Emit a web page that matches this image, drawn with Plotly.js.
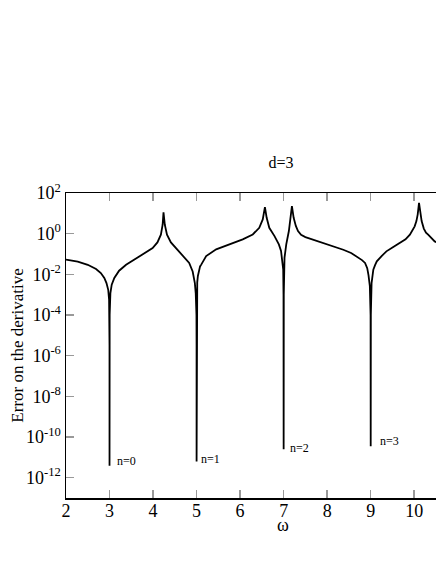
<!DOCTYPE html>
<html>
<head>
<meta charset="utf-8">
<script src="https://cdn.plot.ly/plotly-3.0.1.min.js"></script>
<style>
  body { margin: 0; background: #fff; overflow: hidden; }
</style>
</head>
<body>
<div id="chart"></div>
<script>
// error curve
var omega = [
    2.0, 2.27, 2.50, 2.69, 2.80, 2.88, 2.93, 2.97, 2.99, 2.997, 2.9995, 3.0, 3.0005, 3.003,
    3.02, 3.05, 3.11, 3.22, 3.38, 3.57, 3.80, 3.99, 4.10, 4.18, 4.22, 4.24,
    4.27, 4.32, 4.41, 4.56, 4.72, 4.83, 4.91, 4.96, 4.98, 4.997, 4.9995, 5.0, 5.0005, 5.003,
    5.015, 5.03, 5.08, 5.11, 5.22, 5.45, 5.75, 6.06, 6.29, 6.44, 6.52, 6.57,
    6.61, 6.67, 6.79, 6.89, 6.94, 6.97, 6.99, 6.997, 7.0, 7.003,
    7.02, 7.06, 7.12, 7.15, 7.19, 7.23, 7.28, 7.33, 7.40, 7.50, 7.62, 7.78, 7.99,
    8.2, 8.37, 8.55, 8.68, 8.80, 8.87, 8.92, 8.95, 8.98, 8.997, 9.0, 9.003,
    9.02, 9.04, 9.06, 9.10, 9.14, 9.25, 9.36, 9.5, 9.67, 9.80, 9.90, 9.96, 10.01, 10.05, 10.08, 10.11,
    10.14, 10.17, 10.22, 10.27, 10.32, 10.40, 10.47, 10.6
];
var errDeriv = [
    0.0525, 0.0417, 0.0295, 0.0182, 0.0115, 0.0066, 0.0037, 0.00174, 0.00056, 1e-4, 3.2e-6, 3.9e-12, 3.2e-6, 1e-4,
    0.0012, 0.0031, 0.0066, 0.0151, 0.0295, 0.0525, 0.102, 0.195, 0.372, 0.89, 2.75, 11.2,
    2.75, 0.89, 0.372, 0.162, 0.0759, 0.0363, 0.0138, 0.0037, 0.0012, 1e-4, 3.2e-6, 6.3e-12, 3.2e-6, 1e-4,
    0.004, 0.0083, 0.0245, 0.0309, 0.079, 0.17, 0.295, 0.525, 0.912, 1.95, 5.01, 20.4,
    6.03, 1.95, 0.759, 0.295, 0.141, 0.0537, 0.0174, 1e-3, 2.5e-11, 1e-3,
    0.066, 0.295, 1.35, 4.17, 22.9, 6.03, 2.4, 1.35, 0.87, 0.68, 0.56, 0.43, 0.288,
    0.214, 0.162, 0.112, 0.0759, 0.0501, 0.0363, 0.02, 0.0089, 0.0026, 1e-4, 3.5e-11, 1e-4,
    0.0037, 0.01, 0.017, 0.0282, 0.0437, 0.0794, 0.135, 0.209, 0.347, 0.525, 0.89, 1.41, 2.29, 4.17, 8.9, 32.4,
    8.9, 4.17, 1.78, 1.12, 0.89, 0.603, 0.417, 0.316
];

var xTicks = [2, 3, 4, 5, 6, 7, 8, 9, 10];
var yTicks = [1e2, 1e0, 1e-2, 1e-4, 1e-6, 1e-8, 1e-10, 1e-12];
var yTickText = ["10<sup>2</sup>", "10<sup>0</sup>", "10<sup>-2</sup>", "10<sup>-4</sup>",
    "10<sup>-6</sup>", "10<sup>-8</sup>", "10<sup>-10</sup>", "10<sup>-12</sup>"];

// level labels next to the dips (y in log10 units)
var levelText = ["n=0", "n=1", "n=2", "n=3"];
var levelX = [3.13, 5.06, 7.09, 9.16];
var levelY = [-11.2, -11.08, -10.54, -10.18];

var serif = "'Liberation Serif', 'Times New Roman', Times, serif";

var annotations = levelText.map((t, i) => ({
    text: t,
    x: levelX[i],
    y: levelY[i],
    xref: "x",
    yref: "y",
    xanchor: "left",
    yanchor: "middle",
    showarrow: false,
    font: { family: serif, size: 12, color: "#000" },
}));
annotations.push({
    text: "\u03c9",
    xref: "paper", yref: "paper",
    x: (283 - 66) / 370, y: -0.09,
    xanchor: "center", yanchor: "middle",
    showarrow: false,
    font: { family: serif, size: 18, color: "#000" },
});
annotations.push({
    text: "Error on the derivative",
    xref: "paper", yref: "paper",
    x: -0.132, y: 0.5,
    xanchor: "center", yanchor: "middle",
    textangle: -90,
    showarrow: false,
    font: { family: serif, size: 17, color: "#000" },
});

var trace = {
    x: omega,
    y: errDeriv,
    mode: "lines",
    type: "scatter",
    line: { color: "#000", width: 1.8 },
    hoverinfo: "skip",
};

var layout = {
    width: 436,
    height: 564,
    margin: { l: 66, r: 0, t: 193, b: 66 },
    paper_bgcolor: "#fff",
    plot_bgcolor: "#fff",
    showlegend: false,
    font: { family: serif, color: "#000" },
    title: {
        text: "d=3",
        font: { family: serif, size: 16, color: "#000" },
        xref: "container",
        yref: "container",
        x: 281 / 436,
        y: 1 - 162 / 564,
        xanchor: "center",
        yanchor: "middle",
    },
    xaxis: {
        range: [2, 10.5],
        tickmode: "array",
        tickvals: xTicks,
        ticks: "inside",
        ticklen: 8,
        tickwidth: 1.5,
        tickcolor: "#999",
        ticklabelstandoff: -4,
        showline: true,
        linecolor: "#000",
        linewidth: 1.5,
        mirror: "ticks",
        showgrid: false,
        zeroline: false,
        tickfont: { family: serif, size: 18, color: "#000" },
    },
    yaxis: {
        type: "log",
        range: [-13, 2],
        tickmode: "array",
        tickvals: yTicks,
        ticktext: yTickText,
        ticks: "inside",
        ticklen: 8,
        tickwidth: 1.5,
        tickcolor: "#999",
        showline: true,
        linecolor: "#000",
        linewidth: 1.5,
        showgrid: false,
        zeroline: false,
        tickfont: { family: serif, size: 18, color: "#000" },
    },
    annotations: annotations,
};

Plotly.newPlot("chart", [trace], layout, { staticPlot: true, displayModeBar: false });
</script>
</body>
</html>
